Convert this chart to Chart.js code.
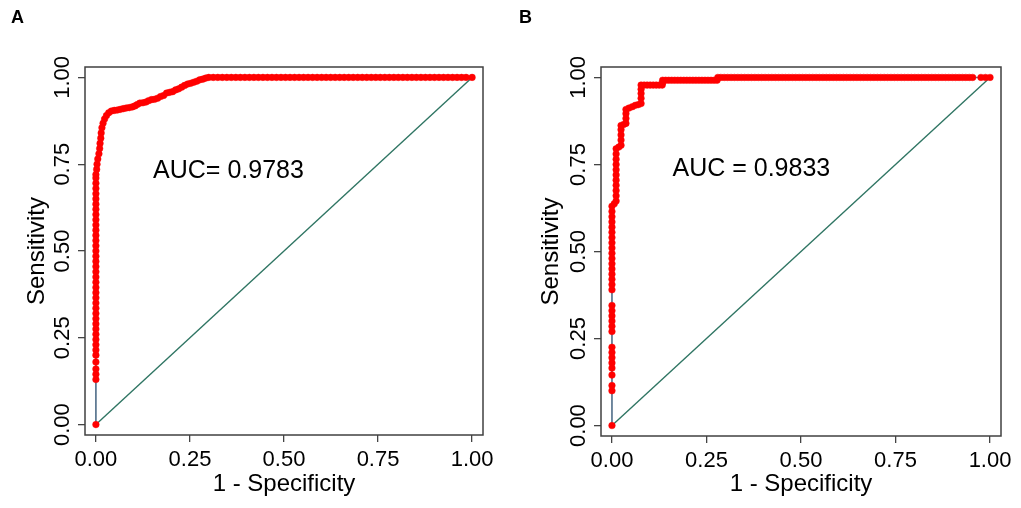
<!DOCTYPE html>
<html lang="en">

<head>
    <meta charset="UTF-8">
    <meta name="viewport" content="width=device-width, initial-scale=1.0">
    <title>ROC curves</title>
    <script src="https://cdn.jsdelivr.net/npm/chart.js@4.4.0/dist/chart.umd.min.js"></script>
    <style>
        html,
        body {
            margin: 0;
            padding: 0;
            background: #fff;
        }

        body {
            position: relative;
            width: 1021px;
            height: 508px;
            overflow: hidden;
            font-family: "Liberation Sans", Arial, sans-serif;
        }

        .panel {
            position: absolute;
            top: 0;
        }

        .tag {
            position: absolute;
            top: 8px;
            font-size: 18px;
            line-height: 18px;
            font-weight: bold;
            color: #000;
        }
    </style>
</head>

<body>
    <canvas id="rocA" class="panel" style="left:0px" width="510" height="508"></canvas>
    <canvas id="rocB" class="panel" style="left:510px" width="511" height="508"></canvas>
    <div class="tag" style="left:11px">A</div>
    <div class="tag" style="left:519px">B</div>
    <script>
        // ticks on both axes
        const tickValues = [0, 0.25, 0.5, 0.75, 1];
        // reference diagonal
        const diagFpr = [0, 1];
        const diagTpr = [0, 1];

        const aucLabelA = 'AUC= 0.9783';
        const aucLabelB = 'AUC = 0.9833';

        // [1 - specificity, sensitivity]
        const rocA = [
            [0, 0],
            [0, 0.13], [0, 0.145], [0, 0.16], [0, 0.18], [0, 0.2], [0, 0.215], [0, 0.23], [0, 0.245], [0, 0.26], [0, 0.275],
            [0, 0.29], [0, 0.305], [0, 0.32], [0, 0.335], [0, 0.35], [0, 0.365], [0, 0.38], [0, 0.395], [0, 0.41], [0, 0.425],
            [0, 0.44], [0, 0.455], [0, 0.47], [0, 0.485], [0, 0.5], [0, 0.515], [0, 0.53], [0, 0.545], [0, 0.56], [0, 0.575],
            [0, 0.59], [0, 0.605], [0, 0.62], [0, 0.635], [0, 0.65], [0, 0.665], [0, 0.68], [0, 0.695], [0, 0.71], [0, 0.72],
            [0.002, 0.735], [0.003, 0.75], [0.005, 0.765], [0.008, 0.78], [0.01, 0.795], [0.011, 0.81], [0.013, 0.825],
            [0.014, 0.84], [0.016, 0.855], [0.019, 0.868], [0.023, 0.88], [0.028, 0.89], [0.034, 0.898], [0.041, 0.903],
            [0.049, 0.905], [0.057, 0.906], [0.065, 0.908], [0.073, 0.91], [0.081, 0.912], [0.089, 0.913], [0.097, 0.915],
            [0.104, 0.918], [0.11, 0.922], [0.117, 0.926], [0.125, 0.927], [0.133, 0.929], [0.14, 0.933], [0.148, 0.936],
            [0.156, 0.937], [0.164, 0.94], [0.172, 0.945], [0.18, 0.948], [0.188, 0.955], [0.196, 0.957], [0.204, 0.959],
            [0.212, 0.964], [0.22, 0.967], [0.228, 0.972], [0.236, 0.977], [0.244, 0.981], [0.252, 0.983], [0.26, 0.986],
            [0.268, 0.989], [0.276, 0.993], [0.284, 0.995], [0.292, 0.998], [0.3, 1],
            [0.312, 1], [0.324, 1], [0.336, 1], [0.348, 1], [0.36, 1], [0.372, 1], [0.384, 1], [0.396, 1], [0.408, 1],
            [0.42, 1], [0.432, 1], [0.444, 1], [0.456, 1], [0.468, 1], [0.48, 1], [0.492, 1], [0.504, 1], [0.516, 1],
            [0.528, 1], [0.54, 1], [0.552, 1], [0.564, 1], [0.576, 1], [0.588, 1], [0.6, 1], [0.612, 1], [0.624, 1],
            [0.636, 1], [0.648, 1], [0.66, 1], [0.672, 1], [0.684, 1], [0.696, 1], [0.708, 1], [0.72, 1], [0.732, 1],
            [0.744, 1], [0.756, 1], [0.768, 1], [0.78, 1], [0.792, 1], [0.804, 1], [0.816, 1], [0.828, 1], [0.84, 1],
            [0.852, 1], [0.864, 1], [0.876, 1], [0.888, 1], [0.9, 1], [0.912, 1], [0.924, 1], [0.936, 1], [0.948, 1],
            [0.96, 1], [0.972, 1], [0.984, 1], [1, 1]
        ];

        // [1 - specificity, sensitivity]
        const rocB = [
            [0, 0],
            [0, 0.1], [0, 0.115], [0, 0.145], [0, 0.165], [0, 0.18], [0, 0.195], [0, 0.21], [0, 0.225],
            [0, 0.27], [0, 0.285], [0, 0.3], [0, 0.315], [0, 0.33], [0, 0.345],
            [0, 0.39], [0, 0.405], [0, 0.42], [0, 0.435], [0, 0.45], [0, 0.465], [0, 0.48], [0, 0.495], [0, 0.51],
            [0, 0.525], [0, 0.54], [0, 0.555], [0, 0.57], [0, 0.585], [0, 0.6], [0, 0.615], [0, 0.63],
            [0.006, 0.637], [0.011, 0.645], [0.011, 0.66], [0.011, 0.675], [0.011, 0.69], [0.011, 0.705], [0.011, 0.72],
            [0.011, 0.735], [0.011, 0.75], [0.011, 0.765], [0.011, 0.78], [0.011, 0.795],
            [0.018, 0.8], [0.024, 0.805], [0.024, 0.82], [0.024, 0.835], [0.024, 0.85], [0.024, 0.862],
            [0.031, 0.865], [0.037, 0.868], [0.037, 0.882], [0.037, 0.896], [0.037, 0.908],
            [0.045, 0.912], [0.054, 0.916], [0.062, 0.92], [0.07, 0.922], [0.077, 0.925],
            [0.077, 0.94], [0.077, 0.954], [0.077, 0.966], [0.077, 0.978],
            [0.085, 0.978], [0.093, 0.978], [0.101, 0.978], [0.109, 0.978], [0.117, 0.978], [0.125, 0.978], [0.133, 0.978],
            [0.134, 0.985], [0.134, 0.992], [0.142, 0.992], [0.15, 0.992], [0.158, 0.992], [0.166, 0.992], [0.174, 0.992],
            [0.182, 0.992], [0.19, 0.992], [0.198, 0.992], [0.206, 0.992], [0.214, 0.992], [0.222, 0.992], [0.23, 0.992],
            [0.238, 0.992], [0.246, 0.992], [0.254, 0.992], [0.262, 0.992], [0.27, 0.992], [0.278, 0.992],
            [0.28, 1], [0.288, 1], [0.297, 1], [0.306, 1], [0.315, 1], [0.324, 1], [0.333, 1], [0.342, 1], [0.351, 1],
            [0.36, 1], [0.369, 1], [0.378, 1], [0.387, 1], [0.396, 1], [0.405, 1], [0.414, 1], [0.423, 1], [0.432, 1],
            [0.441, 1], [0.45, 1], [0.459, 1], [0.468, 1], [0.477, 1], [0.486, 1], [0.495, 1], [0.504, 1], [0.513, 1],
            [0.522, 1], [0.531, 1], [0.54, 1], [0.549, 1], [0.558, 1], [0.567, 1], [0.576, 1], [0.585, 1], [0.594, 1],
            [0.603, 1], [0.612, 1], [0.621, 1], [0.63, 1], [0.639, 1], [0.648, 1], [0.657, 1], [0.666, 1], [0.675, 1],
            [0.684, 1], [0.693, 1], [0.702, 1], [0.711, 1], [0.72, 1], [0.729, 1], [0.738, 1], [0.747, 1], [0.756, 1],
            [0.765, 1], [0.774, 1], [0.783, 1], [0.792, 1], [0.801, 1], [0.81, 1], [0.819, 1], [0.828, 1], [0.837, 1],
            [0.846, 1], [0.855, 1], [0.864, 1], [0.873, 1], [0.882, 1], [0.891, 1], [0.9, 1], [0.909, 1], [0.918, 1],
            [0.927, 1], [0.936, 1], [0.945, 1], [0.954, 1],
            [0.976, 1], [0.988, 1], [1, 1]
        ];

        const family = '"Liberation Sans", Arial, sans-serif';

        function rocChart(id, points, aucLabel, g) {
            // box round the plot region
            const frame = {
                id: 'frame',
                beforeDatasetsDraw: chart => {
                    const a = chart.chartArea;
                    const ctx = chart.ctx;
                    ctx.save();
                    ctx.strokeStyle = '#404040';
                    ctx.lineWidth = 1.5;
                    ctx.strokeRect(a.left, a.top, a.right - a.left, a.bottom - a.top);
                    ctx.restore();
                }
            };
            const aucText = {
                id: 'aucText',
                afterDatasetsDraw: chart => {
                    const ctx = chart.ctx;
                    ctx.save();
                    ctx.font = '25px ' + family;
                    ctx.fillStyle = '#000';
                    ctx.textBaseline = 'middle';
                    ctx.fillText(aucLabel, chart.scales.x.getPixelForValue(g.aucX), chart.scales.y.getPixelForValue(g.aucY));
                    ctx.restore();
                }
            };
            const fmt = v => Number(v).toFixed(2);
            const setTicks = s => { s.ticks = tickValues.map(v => ({ value: v })); };

            return new Chart(document.getElementById(id), {
                type: 'scatter',
                data: {
                    datasets: [{
                        data: points.map(p => ({ x: p[0], y: p[1] })),
                        showLine: true,
                        borderColor: '#4f6d88',
                        borderWidth: 1.6,
                        pointRadius: 3.3,
                        pointHoverRadius: 3.3,
                        pointBackgroundColor: '#ff0000',
                        pointBorderColor: '#ff0000',
                        pointBorderWidth: 0.5,
                        order: 1
                    }, {
                        data: diagFpr.map((x, i) => ({ x: x, y: diagTpr[i] })),
                        showLine: true,
                        borderColor: '#2f7563',
                        borderWidth: 1.4,
                        pointRadius: 0,
                        order: 2
                    }]
                },
                options: {
                    responsive: false,
                    animation: false,
                    events: [],
                    layout: { padding: { top: g.top, right: g.right, left: 0, bottom: 0 } },
                    plugins: { legend: { display: false }, tooltip: { enabled: false } },
                    scales: {
                        x: {
                            type: 'linear', min: -0.029, max: 1.029,
                            afterBuildTicks: setTicks,
                            afterFit: s => { s.height = g.xh; },
                            grid: { drawOnChartArea: false, tickLength: 7, color: '#444', lineWidth: 1.3 },
                            border: { display: false },
                            ticks: { padding: 5, color: '#000', maxRotation: 0, autoSkip: false, font: { size: 22, family: family }, callback: fmt },
                            title: { display: true, text: '1 - Specificity', color: '#000', font: { size: 24, family: family }, padding: { top: 0, bottom: 9 } }
                        },
                        y: {
                            type: 'linear', min: -0.03, max: 1.03,
                            afterBuildTicks: setTicks,
                            afterFit: s => { s.width = g.yw; },
                            grid: { drawOnChartArea: false, tickLength: 7, color: '#444', lineWidth: 1.3 },
                            border: { display: false },
                            ticks: { padding: -6, color: '#000', minRotation: 90, maxRotation: 90, crossAlign: 'center', autoSkip: false, font: { size: 22, family: family }, callback: fmt },
                            title: { display: true, text: 'Sensitivity', color: '#000', font: { size: 24, family: family }, padding: { top: g.ytp, bottom: 0 } }
                        }
                    }
                },
                plugins: [frame, aucText]
            });
        }

        rocChart('rocA', rocA, aucLabelA, { top: 67, right: 27, xh: 73, yw: 85, ytp: 23, aucX: 0.152, aucY: 0.731 });
        rocChart('rocB', rocB, aucLabelB, { top: 67, right: 20, xh: 72, yw: 91, ytp: 27, aucX: 0.16, aucY: 0.736 });
    </script>
</body>

</html>
